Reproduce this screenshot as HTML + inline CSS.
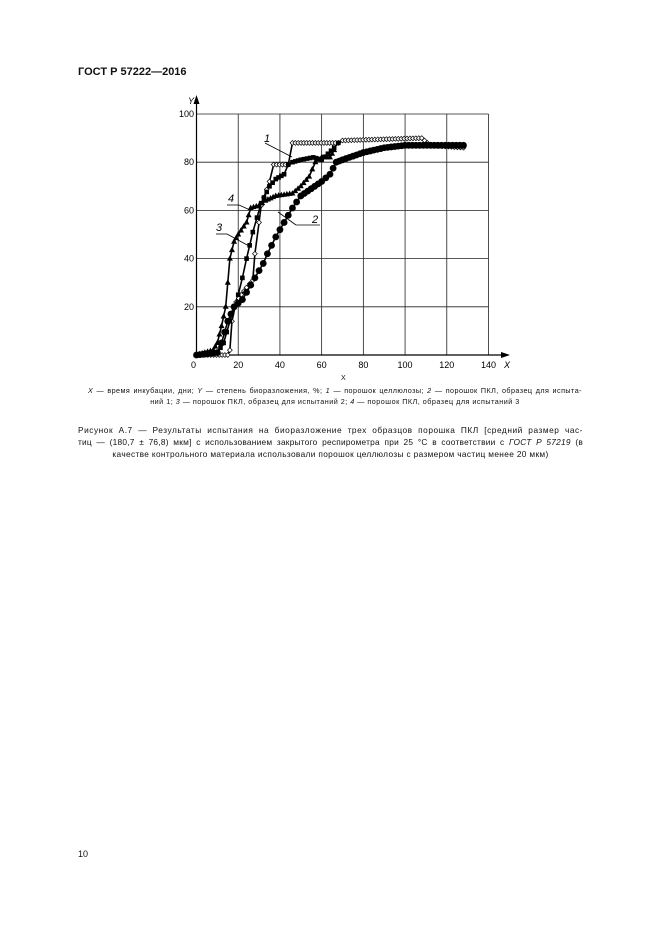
<!DOCTYPE html>
<html><head><meta charset="utf-8"><style>
body{margin:0;background:#fff;width:661px;height:936px;position:relative;font-family:"Liberation Sans",sans-serif;color:#111}
.t{position:absolute;white-space:nowrap}
.j{position:absolute;white-space:nowrap;text-align:justify;text-align-last:justify}
</style></head><body>
<div class="t" style="left:78px;top:66px;font-size:11px;font-weight:bold">ГОСТ Р 57222—2016</div>
<svg id="s" width="661" height="936" style="position:absolute;left:0;top:0" font-family="Liberation Sans, sans-serif"></svg>
<div class="t" style="left:341px;top:375px;font-size:7px">X</div>
<div class="j" style="left:88px;top:386px;width:494px;font-size:7.2px;letter-spacing:0.45px"><i>X</i> — время инкубации, дни; <i>Y</i> — степень биоразложения, %; <i>1</i> — порошок целлюлозы; <i>2</i> — порошок ПКЛ, образец для испыта-</div>
<div class="t" style="left:88px;top:397px;width:494px;font-size:7.2px;text-align:center;letter-spacing:0.5px">ний 1; <i>3</i> — порошок ПКЛ, образец для испытаний 2; <i>4</i> — порошок ПКЛ, образец для испытаний 3</div>
<div class="j" style="left:78px;top:425px;width:505px;font-size:8.3px;letter-spacing:0.55px">Рисунок А.7 — Результаты испытания на биоразложение трех образцов порошка ПКЛ [средний размер час-</div>
<div class="j" style="left:78px;top:437px;width:505px;font-size:8.3px;letter-spacing:0.25px">тиц — (180,7 ± 76,8) мкм] с использованием закрытого респирометра при 25 °С в соответствии с <i>ГОСТ Р 57219</i> (в</div>
<div class="t" style="left:78px;top:449px;width:505px;font-size:8.3px;text-align:center;letter-spacing:0.35px">качестве контрольного материала использовали порошок целлюлозы с размером частиц менее 20 мкм)</div>
<div class="t" style="left:78px;top:849px;font-size:9px">10</div>
<script>
var s=document.getElementById('s'),h='';
function X(v){return 196.5+v*2.0857}function Y(v){return 355-v*2.41}
for(var i=20;i<=140;i+=20)h+='<line x1="'+X(i)+'" y1="'+Y(0)+'" x2="'+X(i)+'" y2="'+Y(100)+'" stroke="#222" stroke-width="0.8"/>';
for(var j=20;j<=100;j+=20)h+='<line x1="'+X(0)+'" y1="'+Y(j)+'" x2="'+X(140)+'" y2="'+Y(j)+'" stroke="#222" stroke-width="0.8"/>';
h+='<line x1="'+X(0)+'" y1="355" x2="505" y2="355" stroke="#000" stroke-width="1.2"/><polygon points="510,355 501,352 501,358"/>';
h+='<line x1="'+X(0)+'" y1="355" x2="'+X(0)+'" y2="100" stroke="#000" stroke-width="1.2"/><polygon points="196.5,95 193.5,104 199.5,104"/>';
for(var i=0;i<=140;i+=20)h+='<text x="'+(i==0?X(0)-3:X(i))+'" y="368" font-size="9" text-anchor="middle">'+i+'</text>';
h+='<text x="504" y="368" font-size="9" font-style="italic">X</text><text x="188" y="104" font-size="9" font-style="italic">Y</text>';
for(var j=20;j<=100;j+=20)h+='<text x="194" y="'+(Y(j)+3)+'" font-size="9" text-anchor="end">'+j+'</text>';
var c1=[[0,0],[15,0],[16,2],[17,14],[19,22],[24,28],[27,31],[28,42],[30,55],[31,62],[35,72],[37,79],[44,79],[46,88],[68,88],[70,89],[108,90],[112,87],[128,86]];
var c2=[[0,0],[10,1],[12,5],[15,14],[18,20],[22,23],[26,29],[28,32],[32,38],[34,42],[38,49],[42,55],[46,61],[50,66],[55,69],[60,72],[64,75],[67,80],[70,81],[80,84],[90,86],[100,87],[128,87]];
var c3=[[0,0],[10,1],[13,5],[16,14],[18,20],[20,25],[22,32],[24,40],[27,51],[29,57],[31,63],[35,70],[38,73],[42,75],[44,79],[46,80],[50,81],[56,82],[60,81],[66,86],[68,88]];
var c4=[[0,0],[8,2],[10,5],[12,12],[14,20],[15,30],[16,40],[18,47],[20,50],[24,55],[26,61],[30,62],[33,64],[38,66],[46,67],[50,70],[54,74],[57,80],[60,82],[64,82],[66,85]];
function interp(c,step){var o=[];for(var k=0;k<c.length-1;k++){var a=c[k],b=c[k+1],n=Math.max(1,Math.round((b[0]-a[0])/step));for(var m=0;m<n;m++)o.push([a[0]+(b[0]-a[0])*m/n,a[1]+(b[1]-a[1])*m/n]);}o.push(c[c.length-1]);return o}
function line(c){return '<polyline fill="none" stroke="#000" stroke-width="1.6" points="'+c.map(function(p){return X(p[0])+','+Y(p[1])}).join(' ')+'"/>'}
[c1,c2,c3,c4].forEach(function(c){h+=line(c)});
interp(c1,1.4).forEach(function(p){var x=X(p[0]),y=Y(p[1]);h+='<polygon points="'+(x-2.4)+','+y+' '+x+','+(y-2.4)+' '+(x+2.4)+','+y+' '+x+','+(y+2.4)+'" fill="#fff" stroke="#000" stroke-width="0.7"/>'});
interp(c2,1.8).forEach(function(p){h+='<circle cx="'+X(p[0])+'" cy="'+Y(p[1])+'" r="3.4"/>'});
interp(c3,1.4).forEach(function(p){h+='<rect x="'+(X(p[0])-2.3)+'" y="'+(Y(p[1])-2.3)+'" width="4.6" height="4.6"/>'});
interp(c4,1.3).forEach(function(p){var x=X(p[0]),y=Y(p[1]);h+='<polygon points="'+x+','+(y-3.4)+' '+(x-3)+','+(y+2)+' '+(x+3)+','+(y+2)+'"/>'});
h+='<line x1="265" y1="143" x2="292" y2="157" stroke="#000" stroke-width="0.8"/><text x="264" y="142" font-size="11" font-style="italic">1</text>';
h+='<line x1="296" y1="225" x2="320" y2="225" stroke="#000" stroke-width="0.8"/><line x1="278" y1="212" x2="296" y2="225" stroke="#000" stroke-width="0.8"/><text x="312" y="223" font-size="11" font-style="italic">2</text>';
h+='<line x1="216" y1="234" x2="227" y2="234" stroke="#000" stroke-width="0.8"/><line x1="227" y1="234" x2="249" y2="246" stroke="#000" stroke-width="0.8"/><text x="216" y="231" font-size="11" font-style="italic">3</text>';
h+='<line x1="227" y1="205" x2="239" y2="205" stroke="#000" stroke-width="0.8"/><line x1="239" y1="205" x2="250" y2="210" stroke="#000" stroke-width="0.8"/><text x="228" y="202" font-size="11" font-style="italic">4</text>';
s.innerHTML=h;
</script>
</body></html>
